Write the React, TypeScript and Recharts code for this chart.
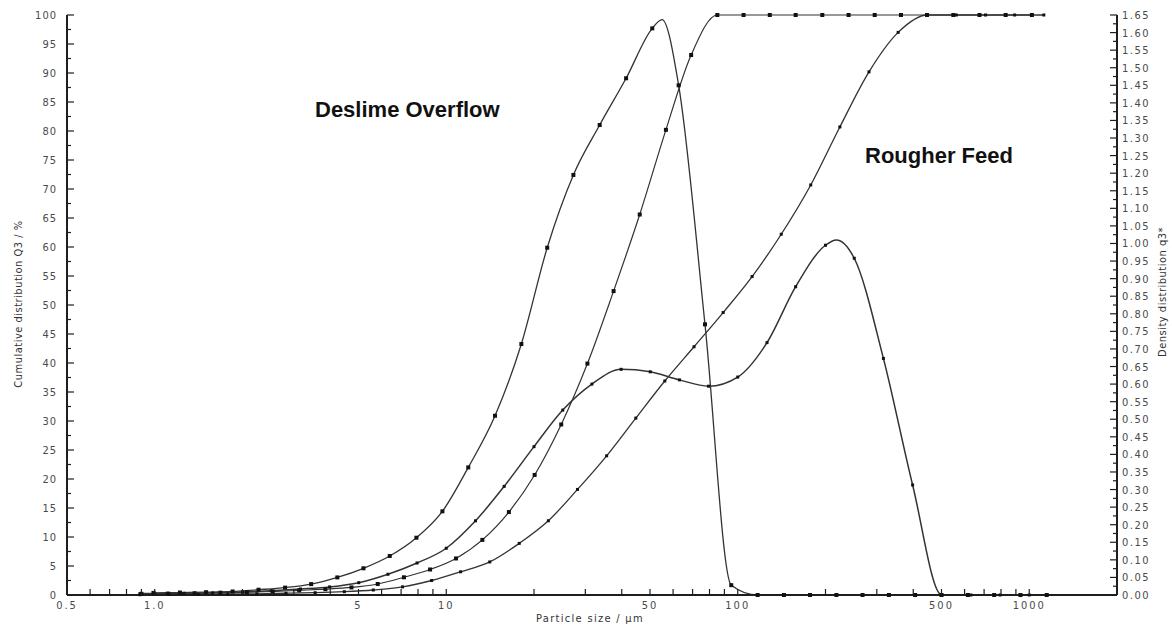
import React from "react";
import { LineChart, Line, XAxis, YAxis } from "recharts";

// Deslime Overflow, density distribution q3* (right axis)
const deslimeDensX = [0.99, 1.22, 1.5, 1.85, 2.27, 2.8, 3.44, 4.23, 5.2, 6.4, 7.9, 9.7, 11.9, 14.7, 18.1, 22.2, 27.3, 33.6, 41.4, 50.9, 55, 62.7, 77.2, 95, 117, 144, 177, 218, 268, 330, 406, 500, 616, 758, 933, 1148];
const deslimeDensY = [0.006, 0.007, 0.008, 0.01, 0.015, 0.021, 0.031, 0.05, 0.076, 0.111, 0.163, 0.238, 0.363, 0.51, 0.714, 0.988, 1.195, 1.337, 1.47, 1.612, 1.637, 1.45, 0.77, 0.028, 0, 0, 0, 0, 0, 0, 0, 0, 0, 0, 0, 0];
const deslimeDensPlain = [55];

// Deslime Overflow, cumulative distribution Q3 (left axis, %)
const deslimeCumX = [0.9, 1.11, 1.37, 1.68, 2.07, 2.54, 3.13, 3.85, 4.73, 5.82, 7.16, 8.8, 10.8, 13.3, 16.4, 20.1, 24.8, 30.5, 37.5, 46.1, 56.7, 69.2, 85.1, 104.7, 128.8, 158, 195, 240, 295, 363, 446, 549, 675, 830, 1021];
const deslimeCumY = [0.2, 0.25, 0.3, 0.4, 0.5, 0.6, 0.8, 1.0, 1.3, 1.9, 3.05, 4.4, 6.3, 9.5, 14.3, 20.7, 29.4, 39.9, 52.4, 65.6, 80.2, 93.1, 100, 100, 100, 100, 100, 100, 100, 100, 100, 100, 100, 100, 100];

// Rougher Feed, density distribution q3* (right axis)
const rougherDensX = [0.89, 1.0, 1.26, 1.58, 2.0, 2.51, 3.16, 3.98, 5.01, 6.31, 7.94, 10, 12.6, 15.8, 20, 25.1, 31.6, 39.8, 50.1, 63.1, 79.4, 100, 126, 158, 200, 218, 251, 316, 398, 501, 631, 794, 1000];
const rougherDensY = [0.004, 0.004, 0.005, 0.006, 0.008, 0.012, 0.017, 0.023, 0.035, 0.059, 0.091, 0.133, 0.211, 0.309, 0.422, 0.526, 0.6, 0.642, 0.635, 0.612, 0.594, 0.62, 0.718, 0.877, 0.995, 1.01, 0.958, 0.673, 0.313, 0, 0, 0, 0];
const rougherDensPlain = [218];

// Rougher Feed, cumulative distribution Q3 (left axis, %)
const rougherCumX = [0.89, 1.12, 1.41, 1.78, 2.24, 2.82, 3.55, 4.47, 5.62, 7.08, 8.91, 11.2, 14.1, 17.8, 22.4, 28.2, 35.5, 44.7, 56.2, 70.8, 89.1, 112, 141, 178, 224, 282, 355, 447, 562, 708, 891, 1122];
const rougherCumY = [0.05, 0.1, 0.1, 0.15, 0.2, 0.3, 0.4, 0.57, 0.86, 1.4, 2.5, 4.0, 5.7, 8.9, 12.8, 18.2, 24.0, 30.5, 36.9, 42.8, 48.7, 54.9, 62.2, 70.7, 80.7, 90.2, 97.0, 100, 100, 100, 100, 100];

// axis ticks
const xLabelValues = [0.5, 1, 5, 10, 50, 100, 500, 1000];
const xLabelTexts = ["0.5", "1.0", "5", "10", "50", "100", "500", "1000"];
const xTicks = [0.5, 0.6, 0.7, 0.8, 0.9, 1, 2, 3, 4, 5, 6, 7, 8, 9, 10, 20, 30, 40, 50, 60, 70, 80, 90, 100, 200, 300, 400, 500, 600, 700, 800, 900, 1000, 2000];
const pctLabels = [0, 5, 10, 15, 20, 25, 30, 35, 40, 45, 50, 55, 60, 65, 70, 75, 80, 85, 90, 95, 100];
const densLabels = [0, 0.05, 0.1, 0.15, 0.2, 0.25, 0.3, 0.35, 0.4, 0.45, 0.5, 0.55, 0.6, 0.65, 0.7, 0.75, 0.8, 0.85, 0.9, 0.95, 1.0, 1.05, 1.1, 1.15, 1.2, 1.25, 1.3, 1.35, 1.4, 1.45, 1.5, 1.55, 1.6, 1.65];

const pctTicks = pctLabels.flatMap((v, i) => (i < pctLabels.length - 1 ? [v, v + 2.5] : [v]));
const densTicks = densLabels.flatMap((v, i) => (i < densLabels.length - 1 ? [v, +(v + 0.025).toFixed(3)] : [v]));

const build = (xs: number[], ys: number[], plain: number[] = []) =>
  xs.map((x, i) => ({ x, y: ys[i], m: !plain.includes(x) }));

const deslimeDens = build(deslimeDensX, deslimeDensY, deslimeDensPlain);
const deslimeCum = build(deslimeCumX, deslimeCumY);
const rougherDens = build(rougherDensX, rougherDensY, rougherDensPlain);
const rougherCum = build(rougherCumX, rougherCumY);

const TICK_FONT = "'DejaVu Sans Condensed', 'DejaVu Sans', sans-serif";
const INK = "#1e1e1e";
const LABEL = "#4a4a4a";

const BottomTick = (props: any) => {
  const { x, y, payload } = props;
  const idx = xLabelValues.indexOf(payload.value);
  return (
    <g>
      <line x1={x} x2={x} y1={y} y2={y - 6} stroke={INK} strokeWidth={1.2} />
      {idx >= 0 && (
        <text x={x} y={y + 14} textAnchor="middle" fontSize={11} fontFamily={TICK_FONT} fill={LABEL} letterSpacing={2}>
          {xLabelTexts[idx]}
        </text>
      )}
    </g>
  );
};

const TopTick = (props: any) => {
  const { x, y } = props;
  return <line x1={x} x2={x} y1={y} y2={y + 5} stroke={INK} strokeWidth={1.2} />;
};

const LeftTick = (props: any) => {
  const { x, y, payload } = props;
  const major = payload.value % 5 === 0;
  return (
    <g>
      <line x1={x} x2={x + (major ? 7 : 4)} y1={y} y2={y} stroke={INK} strokeWidth={1.2} />
      {major && (
        <text x={x - 10} y={y + 4} textAnchor="end" fontSize={11} fontFamily={TICK_FONT} fill={LABEL} letterSpacing={1}>
          {payload.value}
        </text>
      )}
    </g>
  );
};

const RightTick = (props: any) => {
  const { x, y, payload } = props;
  const major = densLabels.includes(payload.value);
  return (
    <g>
      <line x1={x} x2={x - (major ? 7 : 4)} y1={y} y2={y} stroke={INK} strokeWidth={1.2} />
      {major && (
        <text x={x + 5} y={y + 4} textAnchor="start" fontSize={11} fontFamily={TICK_FONT} fill={LABEL} letterSpacing={1.5}>
          {payload.value.toFixed(2)}
        </text>
      )}
    </g>
  );
};

const makeDot = (size: number) => (p: any) => {
  const { cx, cy, payload, index } = p;
  if (!payload || !payload.m || cx == null || cy == null) return <g key={`n-${index}`} />;
  return <rect key={`d-${index}`} x={cx - size / 2} y={cy - size / 2} width={size} height={size} fill="#111" />;
};

const squareDot = makeDot(4);
const smallDot = makeDot(3);

export default function App() {
  return (
    <div style={{ position: "absolute", left: 0, top: 0, width: 1172, height: 628, background: "#fff" }}>
      <LineChart width={1172} height={628} margin={{ top: 15, right: 0, bottom: 0, left: 0 }}>
        <XAxis
          dataKey="x"
          type="number"
          scale="log"
          domain={[0.5, 2000]}
          allowDataOverflow
          ticks={xTicks}
          interval={0}
          height={33}
          tickSize={0}
          tickMargin={0}
          tickLine={false}
          axisLine={{ stroke: INK, strokeWidth: 2 }}
          tick={<BottomTick />}
        />
        <XAxis
          xAxisId="top"
          orientation="top"
          dataKey="x"
          type="number"
          scale="log"
          domain={[0.5, 2000]}
          allowDataOverflow
          ticks={xTicks}
          interval={0}
          height={0}
          tickSize={0}
          tickMargin={0}
          tickLine={false}
          axisLine={{ stroke: INK, strokeWidth: 2 }}
          tick={<TopTick />}
        />
        <YAxis
          yAxisId="pct"
          orientation="left"
          type="number"
          domain={[0, 100]}
          ticks={pctTicks}
          interval={0}
          width={67}
          tickSize={0}
          tickMargin={0}
          tickLine={false}
          axisLine={{ stroke: INK, strokeWidth: 2 }}
          tick={<LeftTick />}
        />
        <YAxis
          yAxisId="dens"
          orientation="right"
          type="number"
          domain={[0, 1.65]}
          ticks={densTicks}
          interval={0}
          width={55}
          tickSize={0}
          tickMargin={0}
          tickLine={false}
          axisLine={{ stroke: INK, strokeWidth: 2 }}
          tick={<RightTick />}
        />
        <Line data={rougherCum} dataKey="y" yAxisId="pct" type="monotone" stroke="#333" strokeWidth={1.3} dot={smallDot} activeDot={false} isAnimationActive={false} />
        <Line data={rougherDens} dataKey="y" yAxisId="dens" type="monotone" stroke="#333" strokeWidth={1.5} dot={smallDot} activeDot={false} isAnimationActive={false} />
        <Line data={deslimeCum} dataKey="y" yAxisId="pct" type="monotone" stroke="#333" strokeWidth={1.2} dot={squareDot} activeDot={false} isAnimationActive={false} />
        <Line data={deslimeDens} dataKey="y" yAxisId="dens" type="monotone" stroke="#333" strokeWidth={1.3} dot={squareDot} activeDot={false} isAnimationActive={false} />
      </LineChart>
      <svg width={1172} height={628} style={{ position: "absolute", left: 0, top: 0, pointerEvents: "none" }}>
        <text x={315} y={117} fontSize={22} fontWeight="bold" fontFamily="'Liberation Sans', Arial, sans-serif" fill="#111">
          Deslime Overflow
        </text>
        <text x={865} y={163} fontSize={22} fontWeight="bold" fontFamily="'Liberation Sans', Arial, sans-serif" fill="#111">
          Rougher Feed
        </text>
        <text
          transform="translate(22,304) rotate(-90)"
          textAnchor="middle"
          fontSize={11}
          fontFamily={TICK_FONT}
          fill="#333"
          letterSpacing={0.5}
        >
          Cumulative distribution Q3 / %
        </text>
        <text
          transform="translate(1166,292) rotate(-90)"
          textAnchor="middle"
          fontSize={11}
          fontFamily={TICK_FONT}
          fill="#333"
          letterSpacing={0.5}
        >
          Density distribution q3*
        </text>
        <text x={590} y={622} textAnchor="middle" fontSize={11} fontFamily={TICK_FONT} fill="#333" letterSpacing={1.3}>
          Particle size / µm
        </text>
      </svg>
    </div>
  );
}
